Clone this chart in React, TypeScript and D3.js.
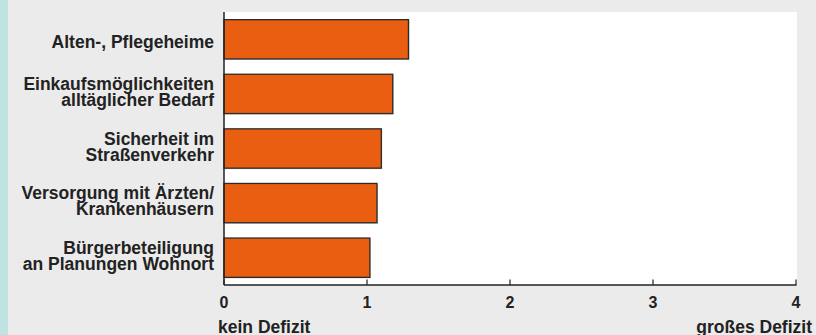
import React from "react";
import * as d3 from "d3";

const categories: string[][] = [
  ["Alten-, Pflegeheime"],
  ["Einkaufsmöglichkeiten", "alltäglicher Bedarf"],
  ["Sicherheit im", "Straßenverkehr"],
  ["Versorgung mit Ärzten/", "Krankenhäusern"],
  ["Bürgerbeteiligung", "an Planungen Wohnort"],
];
const values: number[] = [1.29, 1.18, 1.1, 1.07, 1.02];
const ticks: number[] = [0, 1, 2, 3, 4];
const axisEndLabels: string[] = ["kein Defizit", "großes Defizit"];

const W = 816;
const H = 335;
const plot = { left: 224, right: 796, top: 12, bottom: 285 };
const FONT = "'Liberation Sans', Arial, Helvetica, sans-serif";
const TEXT = "#222";

export default function App() {
  const x = d3.scaleLinear().domain([0, 4]).range([plot.left, plot.right]);
  const keys = categories.map((c) => c.join(" "));
  const y = d3
    .scaleBand<string>()
    .domain(keys)
    .range([plot.top, plot.bottom])
    .paddingInner(0.28)
    .paddingOuter(0.14);
  const bw = y.bandwidth();

  return (
    <svg
      width={W}
      height={H}
      style={{ position: "absolute", left: 0, top: 0, display: "block" }}
      fontFamily={FONT}
    >
      <rect x={0} y={0} width={W} height={H} fill="#ebebeb" />
      <rect x={0} y={0} width={8} height={H} fill="#bfe2e2" />
      <rect
        x={plot.left}
        y={plot.top}
        width={plot.right - plot.left + 1}
        height={plot.bottom - plot.top}
        fill="#ffffff"
      />
      {keys.map((k, i) => {
        const y0 = y(k)!;
        const cy = y0 + bw / 2;
        const lines = categories[i];
        return (
          <g key={k}>
            <rect
              x={x(0) + 1}
              y={y0 + 1}
              width={x(values[i]) - x(0)}
              height={bw}
              fill="#9a9a9a"
              opacity={0.5}
            />
            <rect
              x={x(0)}
              y={y0}
              width={x(values[i]) - x(0)}
              height={bw}
              fill="#e95e10"
              stroke="#2b2b2b"
              strokeWidth={1.3}
            />
            {lines.map((t, j) => (
              <text
                key={j}
                x={214}
                y={lines.length === 1 ? cy + 8.5 : cy - 4 + j * 16}
                textAnchor="end"
                fontSize={17.5}
                fontWeight="bold"
                fill={TEXT}
              >
                {t}
              </text>
            ))}
          </g>
        );
      })}
      {/* axes */}
      <line
        x1={plot.left}
        x2={plot.left}
        y1={plot.top}
        y2={plot.bottom}
        stroke="#222"
        strokeWidth={1.5}
      />
      <line
        x1={plot.left}
        x2={plot.right + 0.5}
        y1={plot.bottom}
        y2={plot.bottom}
        stroke="#222"
        strokeWidth={1.5}
      />
      {ticks.map((t) => (
        <g key={t}>
          <line
            x1={x(t)}
            x2={x(t)}
            y1={plot.bottom - 5.5}
            y2={plot.bottom}
            stroke="#222"
            strokeWidth={1.2}
          />
          <text
            x={x(t)}
            y={307.5}
            textAnchor="middle"
            fontSize={16}
            fontWeight="bold"
            fill={TEXT}
          >
            {t}
          </text>
        </g>
      ))}
      <text x={218} y={332.5} fontSize={17.5} fontWeight="bold" fill={TEXT}>
        {axisEndLabels[0]}
      </text>
      <text
        x={812}
        y={332.5}
        textAnchor="end"
        fontSize={17.5}
        fontWeight="bold"
        fill={TEXT}
      >
        {axisEndLabels[1]}
      </text>
    </svg>
  );
}
